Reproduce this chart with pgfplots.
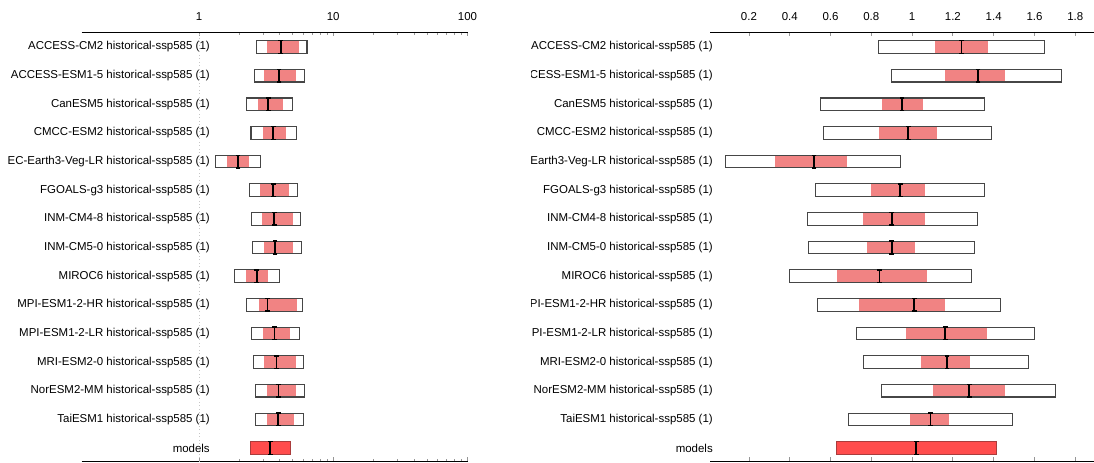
\documentclass[border=0pt]{standalone}
\usepackage{pgfplots}
\pgfplotsset{compat=1.18}
\usepackage{fontspec}
\setmainfont{Liberation Sans}
\definecolor{pinkf}{RGB}{241,131,131}
\definecolor{modelf}{RGB}{255,76,76}
\definecolor{modeld}{RGB}{170,60,60}
\definecolor{boxd}{RGB}{70,70,70}
\definecolor{tickc}{RGB}{150,150,150}
\newcommand{\lblfont}{\fontsize{8.6pt}{10pt}\selectfont}
% row (y), lo, hi, pink lo, pink hi, median
\newcommand{\bx}[6]{%
  \pgfmathsetmacro\ya{#1-0.22}\pgfmathsetmacro\yb{#1+0.22}%
  \addplot[draw=none, fill=white] coordinates {(#2,\ya) (#3,\ya) (#3,\yb) (#2,\yb)} -- cycle;
  \addplot[draw=none, fill=pinkf] coordinates {(#4,\ya) (#5,\ya) (#5,\yb) (#4,\yb)} -- cycle;
  \addplot[draw=boxd, line width=0.8pt] coordinates {(#2,\ya) (#3,\ya) (#3,\yb) (#2,\yb)} -- cycle;
  \addplot[black, line width=1.4pt, mark=-, mark size=1.8pt, mark options={line width=1.1pt}] coordinates {(#6,\ya) (#6,\yb)};
}
\newcommand{\mbx}[4]{%
  \pgfmathsetmacro\ya{#1-0.22}\pgfmathsetmacro\yb{#1+0.22}%
  \addplot[draw=modeld, line width=0.8pt, fill=modelf] coordinates {(#2,\ya) (#3,\ya) (#3,\yb) (#2,\yb)} -- cycle;
  \addplot[black, line width=1.4pt, mark=-, mark size=1.8pt, mark options={line width=1.1pt}] coordinates {(#4,\ya) (#4,\yb)};
}
\pgfplotsset{
  myax/.style={
    anchor=south west, scale only axis,
    height=321.75pt,
    ymin=-0.466, ymax=14.513,
    separate axis lines,
    x axis line style={draw=black, line width=0.8pt},
    y axis line style={draw=none},
    tick align=inside,
    xtick pos=both,
    xticklabel pos=right,
    major tick length=3pt, minor tick length=2pt,
    every tick/.style={draw=tickc, line width=0.6pt},
    ytick={0,...,14}, ytick style={draw=none},
    xticklabel style={font=\lblfont, anchor=south, inner sep=0pt, yshift=8.6pt},
    yticklabel style={font=\lblfont, anchor=east, inner sep=0pt},
    /pgf/number format/assume math mode=true,
  }
}
\begin{document}
\begin{tikzpicture}
\useasboundingbox (0,0) rectangle (820.5pt,346.5pt);
\begin{axis}[myax,
  at={(61.3pt,0.5pt)}, width=289.35pt,
  xmode=log, xmin=0.134, xmax=100,
  xtick={1,10,100}, log ticks with fixed point,
  yticklabel style={xshift=96.2pt},
  yticklabels={models, TaiESM1 historical-ssp585 (1), NorESM2-MM historical-ssp585 (1), MRI-ESM2-0 historical-ssp585 (1), MPI-ESM1-2-LR historical-ssp585 (1), MPI-ESM1-2-HR historical-ssp585 (1), MIROC6 historical-ssp585 (1), INM-CM5-0 historical-ssp585 (1), INM-CM4-8 historical-ssp585 (1), FGOALS-g3 historical-ssp585 (1), EC-Earth3-Veg-LR historical-ssp585 (1), CMCC-ESM2 historical-ssp585 (1), CanESM5 historical-ssp585 (1), ACCESS-ESM1-5 historical-ssp585 (1), ACCESS-CM2 historical-ssp585 (1)},
]
\addplot[gray!45, dotted, line width=0.6pt] coordinates {(1,-0.466) (1,14.513)};
\bx{14}{2.67}{6.38}{3.19}{5.54}{4.07}
\bx{13}{2.59}{6.11}{3.06}{5.29}{3.95}
\bx{12}{2.25}{4.97}{2.75}{4.23}{3.28}
\bx{11}{2.44}{5.33}{2.98}{4.43}{3.57}
\bx{10}{1.33}{2.86}{1.62}{2.37}{1.95}
\bx{9}{2.37}{5.45}{2.84}{4.65}{3.57}
\bx{8}{2.45}{5.71}{2.96}{5.00}{3.63}
\bx{7}{2.52}{5.83}{3.06}{5.03}{3.69}
\bx{6}{1.84}{3.95}{2.25}{3.28}{2.69}
\bx{5}{2.26}{5.93}{2.81}{5.38}{3.24}
\bx{4}{2.46}{5.63}{2.99}{4.75}{3.65}
\bx{3}{2.55}{6.00}{3.04}{5.24}{3.78}
\bx{2}{2.64}{6.11}{3.19}{5.29}{3.91}
\bx{1}{2.64}{5.96}{3.19}{5.11}{3.89}
\mbx{0}{2.41}{4.81}{3.39}
\end{axis}
\begin{scope}
\clip (398.6pt,0pt) rectangle (820.5pt,346.5pt);
\begin{axis}[myax,
  at={(532.5pt,0.5pt)}, width=288pt,
  xmin=0.009, xmax=1.892,
  xtick={0.2,0.4,0.6,0.8,1,1.2,1.4,1.6,1.8},
  yticklabel style={xshift=2.25pt},
  yticklabels={models, TaiESM1 historical-ssp585 (1), NorESM2-MM historical-ssp585 (1), MRI-ESM2-0 historical-ssp585 (1), MPI-ESM1-2-LR historical-ssp585 (1), MPI-ESM1-2-HR historical-ssp585 (1), MIROC6 historical-ssp585 (1), INM-CM5-0 historical-ssp585 (1), INM-CM4-8 historical-ssp585 (1), FGOALS-g3 historical-ssp585 (1), EC-Earth3-Veg-LR historical-ssp585 (1), CMCC-ESM2 historical-ssp585 (1), CanESM5 historical-ssp585 (1), ACCESS-ESM1-5 historical-ssp585 (1), ACCESS-CM2 historical-ssp585 (1)},
]
\bx{14}{0.833}{1.650}{1.110}{1.373}{1.242}
\bx{13}{0.900}{1.733}{1.162}{1.454}{1.323}
\bx{12}{0.550}{1.354}{0.850}{1.054}{0.950}
\bx{11}{0.567}{1.390}{0.840}{1.123}{0.981}
\bx{10}{0.087}{0.942}{0.329}{0.683}{0.519}
\bx{9}{0.527}{1.354}{0.800}{1.063}{0.942}
\bx{8}{0.487}{1.321}{0.760}{1.063}{0.900}
\bx{7}{0.494}{1.304}{0.779}{1.013}{0.900}
\bx{6}{0.398}{1.292}{0.631}{1.075}{0.840}
\bx{5}{0.537}{1.433}{0.740}{1.163}{1.010}
\bx{4}{0.727}{1.602}{0.969}{1.365}{1.163}
\bx{3}{0.762}{1.573}{1.042}{1.283}{1.171}
\bx{2}{0.852}{1.704}{1.100}{1.454}{1.281}
\bx{1}{0.688}{1.490}{0.990}{1.183}{1.090}
\mbx{0}{0.631}{1.413}{1.021}
\end{axis}
\end{scope}
\end{tikzpicture}
\end{document}
